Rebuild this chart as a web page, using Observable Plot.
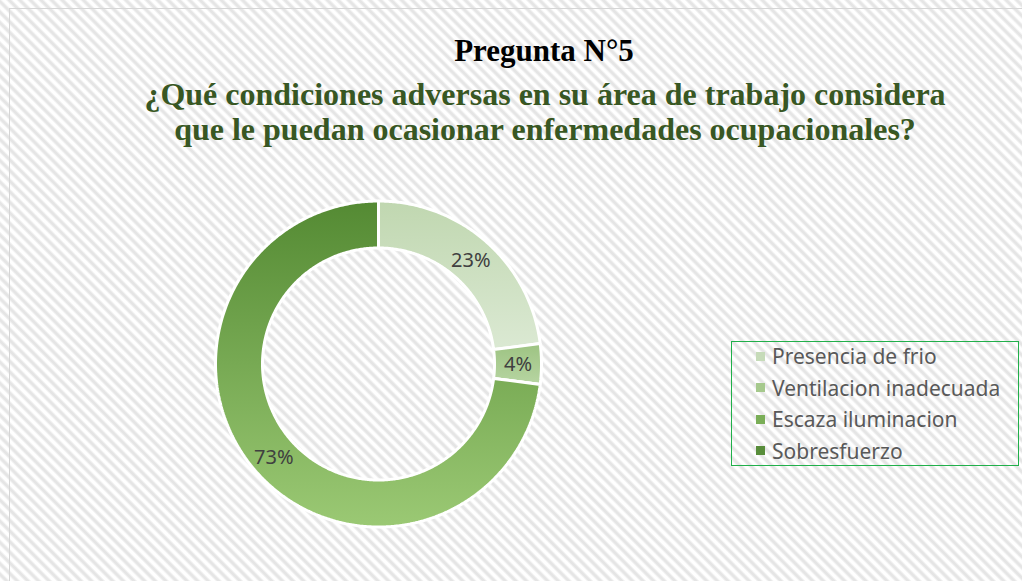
<!DOCTYPE html>
<html><head><meta charset="utf-8">
<script src="https://cdn.jsdelivr.net/npm/d3@7"></script>
<script src="https://cdn.jsdelivr.net/npm/@observablehq/plot@0.6"></script>
<style>
html,body{margin:0;padding:0;background:#fff;}
#wrap{position:relative;width:1022px;height:581px;overflow:hidden;
 background:repeating-linear-gradient(45deg,#ffffff 0px,#ffffff 2px,#e5e5e5 4px,#e5e5e5 5.5px,#ffffff 7.5px);}
#frame{position:absolute;left:9px;top:8px;width:1100px;height:700px;border-left:1.5px solid #d6d6d6;border-top:1.5px solid #d6d6d6;}
#title{position:absolute;left:0;top:33px;width:1088px;text-align:center;font-family:"Liberation Serif",serif;font-weight:bold;font-size:31px;line-height:36px;color:#000;}
#sub{position:absolute;left:0;top:77px;width:1090px;text-align:center;font-family:"Liberation Serif",serif;font-weight:bold;font-size:32px;line-height:35px;color:#385723;}
#chart{position:absolute;left:0;top:180px;}
#legend{position:absolute;left:731px;top:341px;width:286px;height:123px;border:1.5px solid #21b04b;font-family:"Noto Sans",sans-serif;font-size:21px;color:#595959;}
.item{position:absolute;left:24px;height:26px;line-height:26px;white-space:nowrap;}
.sw{display:inline-block;width:9px;height:9px;margin-right:7px;vertical-align:middle;position:relative;top:-2px;}
</style></head>
<body>
<svg width="0" height="0" style="position:absolute">
 <defs>
  <linearGradient id="g0" x1="0" y1="0" x2="0" y2="1"><stop offset="0" stop-color="#c0d7b0"/><stop offset="1" stop-color="#dbe9d3"/></linearGradient>
  <linearGradient id="g1" x1="0" y1="0" x2="0" y2="1"><stop offset="0" stop-color="#9dc382"/><stop offset="1" stop-color="#b7d5a2"/></linearGradient>
  <linearGradient id="g2" x1="0" y1="0" x2="0" y2="1"><stop offset="0" stop-color="#6fa44c"/><stop offset="1" stop-color="#8dbd69"/></linearGradient>
  <linearGradient id="g3" x1="0" y1="0" x2="0" y2="1"><stop offset="0" stop-color="#548a33"/><stop offset="1" stop-color="#9bc974"/></linearGradient>
 </defs>
</svg>
<div id="wrap">
 <div id="frame"></div>
 <div id="title">Pregunta N°5</div>
 <div id="sub">¿Qué condiciones adversas en su área de trabajo considera<br>que le puedan ocasionar enfermedades ocupacionales?</div>
 <div id="chart"></div>
 <div id="legend"></div>
</div>
<script>
const categories = ["Presencia de frio", "Ventilacion inadecuada", "Escaza iluminacion", "Sobresfuerzo"];
const percentages = [23, 4, 0, 73];
const legendColors = ["#c6dbb9", "#a6c98d", "#7aae57", "#588d3a"];
const gradientIds = ["g0", "g1", "g2", "g3"];

const W = 760, H = 380;
const cx = 378, cy = 183.5, R = 163, r = 116;

const pie = d3.pie().sort(null).value(d => d)(percentages);
const slices = pie.map((p, i) => {
  const pts = [];
  const n = Math.max(2, Math.ceil((p.endAngle - p.startAngle) / 0.01));
  for (let k = 0; k <= n; k++) {
    const a = p.startAngle + (p.endAngle - p.startAngle) * k / n;
    pts.push({x: cx + R * Math.sin(a), y: cy - R * Math.cos(a)});
  }
  for (let k = n; k >= 0; k--) {
    const a = p.startAngle + (p.endAngle - p.startAngle) * k / n;
    pts.push({x: cx + r * Math.sin(a), y: cy - r * Math.cos(a)});
  }
  return pts;
});
const labelData = pie.filter(p => p.value > 0).map(p => {
  const a = (p.startAngle + p.endAngle) / 2, m = (R + r) / 2;
  return {x: cx + m * Math.sin(a), y: cy - m * Math.cos(a) + 1, text: p.value + "%"};
});

const marks = slices.map((pts, i) => Plot.line(pts, {
  x: "x", y: "y", curve: "linear-closed", fill: `url(#${gradientIds[i]})`,
  stroke: "white", strokeWidth: 3, strokeLinejoin: "miter"
}));
marks.push(Plot.text(labelData, {x: "x", y: "y", text: "text", fontSize: 20,
  fill: "#404040", fontFamily: "Noto Sans, sans-serif"}));

const chart = Plot.plot({
  width: W, height: H, margin: 0,
  x: {domain: [0, W], range: [0, W], axis: null},
  y: {domain: [0, H], range: [0, H], axis: null},
  style: {background: "transparent", overflow: "visible"},
  marks
});
document.getElementById("chart").appendChild(chart);

const lg = document.getElementById("legend");
categories.forEach((c, i) => {
  const d = document.createElement("div");
  d.className = "item";
  d.style.top = (1 + i * 31.5) + "px";
  d.innerHTML = `<span class="sw" style="background:${legendColors[i]}"></span>${c}`;
  lg.appendChild(d);
});
</script>
</body></html>
